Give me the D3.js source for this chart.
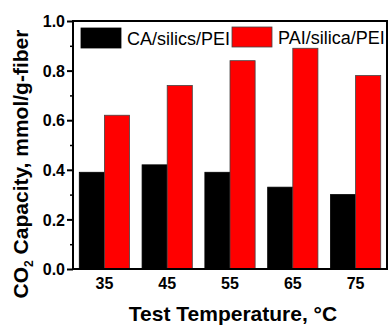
<!DOCTYPE html>
<html><head><meta charset="utf-8">
<script src="https://cdn.jsdelivr.net/npm/d3@7"></script>
<style>body{margin:0;background:#fff}svg{display:block}</style>
</head><body>
<script>
const categories = ["35","45","55","65","75"];
const seriesNames = ["CA/silics/PEI","PAI/silica/PEI"];
const caValues = [0.39,0.42,0.39,0.33,0.30];
const paiValues = [0.62,0.74,0.84,0.89,0.78];
const yTicks = [0.0,0.2,0.4,0.6,0.8,1.0];
const yMinorTicks = [0.1,0.3,0.5,0.7,0.9];

const W=388,H=325;
const m={left:73,right:1,top:21,bottom:56};
const svg=d3.select("body").append("svg").attr("width",W).attr("height",H);
const x=d3.scaleBand().domain(categories).range([m.left,W-m.right]).paddingInner(0.2).paddingOuter(0.1);
const x1=d3.scaleBand().domain(seriesNames).range([0,x.bandwidth()]);
const y=d3.scaleLinear().domain([0,1]).range([H-m.bottom,m.top]);
const colors=["#000000","#ff0000"];
const strokes=["#000000","#444444"];
const font="Arial, 'Liberation Sans', sans-serif";

const data=categories.map((c,i)=>({c,vals:[caValues[i],paiValues[i]]}));
const g=svg.append("g");
data.forEach(d=>{
  d.vals.forEach((v,j)=>{
    g.append("rect").attr("x",x(d.c)+x1(seriesNames[j])).attr("y",y(v))
     .attr("width",x1.bandwidth()).attr("height",y(0)-y(v))
     .attr("fill",colors[j]).attr("stroke",strokes[j]).attr("stroke-width",0.8);
  });
});

// y axis
const yAxis=d3.axisLeft(y).tickValues(yTicks).tickFormat(d3.format(".1f")).tickSize(6).tickPadding(2);
const ya=svg.append("g").attr("transform",`translate(${m.left},0)`).call(yAxis);
ya.select(".domain").remove();
ya.selectAll("line").attr("stroke","#000").attr("stroke-width",2);
ya.selectAll("text").attr("font-family",font).attr("font-weight","bold").attr("font-size",16).attr("fill","#000").attr("dy","0.36em");
const yMinor=d3.axisLeft(y).tickValues(yMinorTicks).tickFormat("").tickSize(3);
const ym=svg.append("g").attr("transform",`translate(${m.left},0)`).call(yMinor);
ym.select(".domain").remove();
ym.selectAll("line").attr("stroke","#000").attr("stroke-width",1.5);

// x axis
const xAxis=d3.axisBottom(x).tickSize(0).tickPadding(9);
const xa=svg.append("g").attr("transform",`translate(0,${H-m.bottom})`).call(xAxis);
xa.select(".domain").remove();
xa.selectAll("text").attr("font-family",font).attr("font-weight","bold").attr("font-size",16).attr("fill","#000");

// frame
svg.append("rect").attr("x",m.left).attr("y",m.top).attr("width",W-m.right-m.left).attr("height",H-m.bottom-m.top)
  .attr("fill","none").attr("stroke","#000").attr("stroke-width",2);

// legend
const leg=[{x:81,y:28},{x:232,y:27}];
seriesNames.forEach((n,j)=>{
  svg.append("text").attr("x",leg[j].x+46).attr("y",leg[j].y+16.5).text(n)
    .attr("font-family",font).attr("font-size",18).attr("fill","#000");
});
seriesNames.forEach((n,j)=>{
  svg.append("rect").attr("x",leg[j].x).attr("y",leg[j].y).attr("width",40).attr("height",20)
    .attr("fill",colors[j]).attr("stroke",strokes[j]).attr("stroke-width",0.8);
});

// axis titles
svg.append("text").attr("x",233).attr("y",321).attr("text-anchor","middle")
  .attr("font-family",font).attr("font-weight","bold").attr("font-size",21).text("Test Temperature, °C");
const yl=svg.append("text").attr("transform",`translate(28,${164}) rotate(-90)`).attr("text-anchor","middle")
  .attr("font-family",font).attr("font-weight","bold").attr("font-size",21);
yl.append("tspan").text("CO");
yl.append("tspan").attr("font-size",12).attr("dy",5).text("2");
yl.append("tspan").attr("dy",-5).text(" Capacity, mmol/g-fiber");
</script>
</body></html>
